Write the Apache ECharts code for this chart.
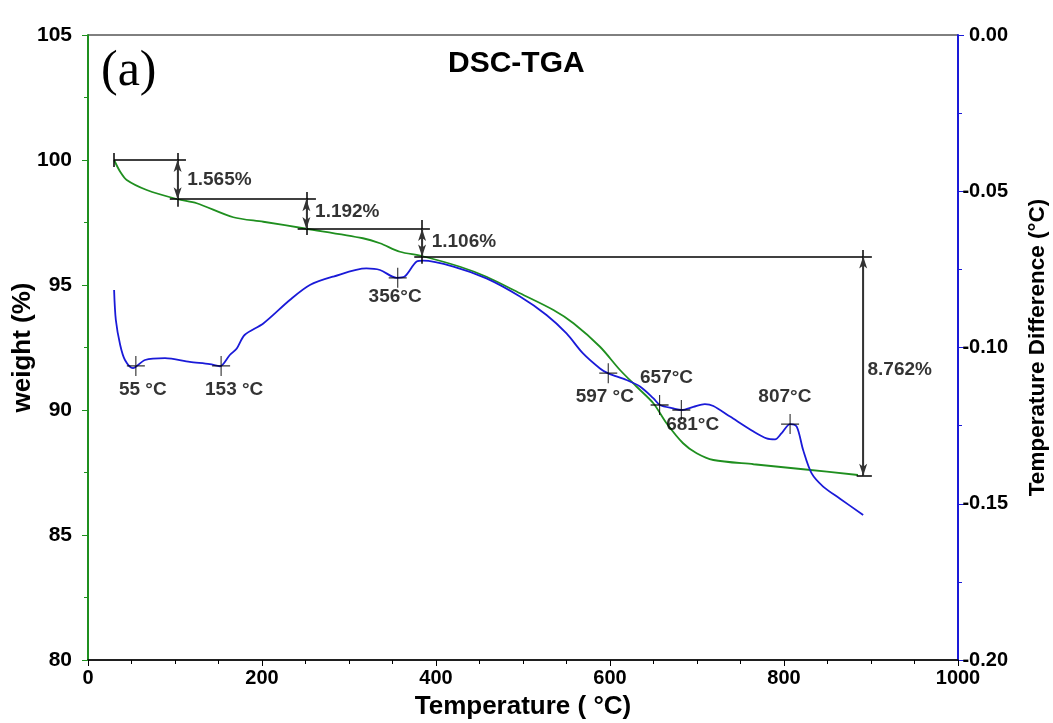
<!DOCTYPE html>
<html>
<head>
<meta charset="utf-8">
<script src="https://cdn.jsdelivr.net/npm/echarts@6/dist/echarts.min.js"></script>
<style>
html,body{margin:0;padding:0;background:#fff;}
#chart{width:1053px;height:723px;}
</style>
</head>
<body>
<div id="chart"></div>
<script>
// ---- Data ----
const tgaTemp   = [30,37,44.5,67.5,103,125,167,201.5,251,316,335.6,358.6,383.5,427.6,458,496.5,535,558,588.5,611.5,630.7,649.8,665,684,699.6,718.8,765,822,885];
const tgaWeight = [100,99.53,99.2,98.8,98.43,98.27,97.71,97.53,97.25,96.87,96.67,96.33,96.16,95.73,95.33,94.67,94.0,93.47,92.53,91.6,90.93,90.27,89.47,88.67,88.27,88.0,87.83,87.63,87.4];

const dtaTemp = [30,32,37,42.5,51.7,65.5,88.5,117,140,151.7,163,171,180,201.5,232,255,282,320,335.6,354.8,364,377.8,385.4,420,458,496.5,527,550,569,588.5,598,619,634.5,650,657.5,672.8,682.4,695.8,709,718.8,738,765,780,789.7,797,807,814.6,822,831.8,845,864,891];
const dtaDiff = [-0.0816,-0.0912,-0.0992,-0.104,-0.1066,-0.104,-0.1034,-0.1046,-0.1053,-0.106,-0.1024,-0.1003,-0.096,-0.0923,-0.0848,-0.080,-0.0773,-0.0747,-0.0752,-0.0777,-0.0773,-0.0725,-0.0722,-0.0741,-0.0779,-0.0837,-0.0896,-0.0955,-0.1019,-0.1067,-0.1083,-0.1104,-0.1125,-0.1163,-0.1184,-0.1195,-0.12,-0.119,-0.1181,-0.1187,-0.1221,-0.1269,-0.1291,-0.1294,-0.1275,-0.1245,-0.1253,-0.1328,-0.1403,-0.1445,-0.1483,-0.1536];

// DTA peak markers
const peakTemp = [55,153,356,598,657,682,807];
const peakDiff = [-0.1059,-0.1059,-0.0777,-0.1082,-0.1184,-0.12,-0.1245];
const peakLabels = ['55 °C','153 °C','356°C','597 °C','657°C','681°C','807°C'];
const peakLabelTemp = [63,168,353,594,665,695,801];
const peakLabelDiff = [-0.1136,-0.1136,-0.0837,-0.1158,-0.1098,-0.1248,-0.1158];

// weight-loss steps
const stepLabels = ['1.565%','1.192%','1.106%','8.762%'];
const stepLabelTemp = [114,261,395,896];
const stepLabelWeight = [99.2,97.92,96.73,91.6];
// horizontal reference lines [tStart, tEnd, weight]
const stepHLines = [[30,112.6,100],[94,262,98.435],[241,393,97.243],[375,901,96.137],[883.5,901,87.375]];
// vertical arrows [temp, weightTop, weightBottom]
const stepArrows = [[103,100,98.435],[251,98.435,97.243],[384,97.243,96.137],[891,96.137,87.375]];
// vertical tick lines [temp, weightTop, weightBottom]
const stepTicks = [[30,100.28,99.72],[103,100.28,98.13],[251,98.72,97.0],[384,97.6,95.85],[891,96.4,87.375]];

// axis ranges
const xMin = 0, xMax = 1000, xStep = 200;
const yMin = 80, yMax = 105, yStep = 5;
const y2Min = -0.20, y2Max = 0, y2Step = 0.05;

const GREEN = '#1f8f1f', BLUE = '#1a1ad8';
const FONT = 'Liberation Sans, Arial, sans-serif';

const chart = echarts.init(document.getElementById('chart'), null, {renderer:'canvas'});

const hLineData = stepHLines.map(d => [{coord:[d[0], d[2]]},{coord:[d[1], d[2]]}]);
const tickData = stepTicks.map(d => [{coord:[d[0], d[1]]},{coord:[d[0], d[2]]}]);
const arrowData = stepArrows.map(d => [{coord:[d[0], d[1]]},{coord:[d[0], d[2]]}]);

const option = {
  animation: false,
  backgroundColor: '#fff',
  title: [
    {text:'DSC-TGA', left: 443, top: 44, textStyle:{fontFamily:FONT, fontWeight:'bold', fontSize:30, color:'#000'}},
    {text:'(a)', left: 96, top: 42, textStyle:{fontFamily:'Liberation Serif, Times New Roman, serif', fontWeight:'normal', fontSize:50, color:'#000'}}
  ],
  grid: {left: 88, right: 95, top: 35, bottom: 63, outerBoundsMode:'none', containLabel:false,
         show: true, borderColor:'#000', borderWidth:1, backgroundColor:'transparent'},
  xAxis: {
    type:'value', min:xMin, max:xMax, interval:xStep,
    name:'Temperature ( °C)', nameLocation:'middle', nameGap:34,
    nameTextStyle:{fontFamily:FONT, fontWeight:'bold', fontSize:26, color:'#000'},
    axisLine:{show:true, onZero:false, lineStyle:{color:'#000', width:1.5}},
    axisTick:{show:true, inside:false, length:6, lineStyle:{color:'#000'}},
    minorTick:{show:true, splitNumber:4, length:4, lineStyle:{color:'#000'}},
    splitLine:{show:false},
    axisLabel:{fontFamily:FONT, fontWeight:'bold', fontSize:20, color:'#000', margin:8,
      formatter: v => String(v)}
  },
  yAxis: [
    {
      type:'value', min:yMin, max:yMax, interval:yStep, position:'left',
      name:'weight (%)', nameLocation:'middle', nameGap:52, nameRotate:90, nameMoveOverlap:false,
      nameTextStyle:{fontFamily:FONT, fontWeight:'bold', fontSize:26, color:'#000'},
      axisLine:{show:true, onZero:false, lineStyle:{color:GREEN, width:2}},
      axisTick:{show:true, length:6, lineStyle:{color:GREEN}},
      minorTick:{show:true, splitNumber:2, length:4, lineStyle:{color:GREEN}},
      splitLine:{show:false},
      axisLabel:{fontFamily:FONT, fontWeight:'bold', fontSize:21, color:'#000', margin:16,
        formatter: v => String(v)}
    },
    {
      type:'value', min:y2Min, max:y2Max, interval:y2Step, position:'right',
      name:'Temperature Difference (°C)', nameLocation:'middle', nameGap:68, nameRotate:90,
      nameTextStyle:{fontFamily:FONT, fontWeight:'bold', fontSize:22.5, color:'#000'},
      axisLine:{show:true, onZero:false, lineStyle:{color:BLUE, width:2}},
      axisTick:{show:true, length:6, lineStyle:{color:BLUE}},
      minorTick:{show:true, splitNumber:2, length:4, lineStyle:{color:BLUE}},
      splitLine:{show:false},
      axisLabel:{fontFamily:FONT, fontWeight:'bold', fontSize:20, color:'#000', margin:50, align:'right',
        formatter: v => v.toFixed(2)}
    }
  ],
  series: [
    {
      name:'TGA', type:'line', yAxisIndex:0, showSymbol:false, smooth:0.3,
      lineStyle:{color:GREEN, width:1.8}, itemStyle:{color:GREEN},
      data: tgaTemp.map((t,i)=>[t, tgaWeight[i]]),
      z:3
    },
    {
      name:'DTA', type:'line', yAxisIndex:1, showSymbol:false, smooth:0.3,
      lineStyle:{color:BLUE, width:1.8}, itemStyle:{color:BLUE},
      data: dtaTemp.map((t,i)=>[t, dtaDiff[i]]),
      z:3
    },
    {
      name:'peaks', type:'scatter', yAxisIndex:1,
      symbol:'path://M0,10L20,10M10,0L10,20', symbolSize:[18,20],
      itemStyle:{color:'rgba(0,0,0,0)', borderColor:'#000', borderWidth:1.2},
      data: peakTemp.map((t,i)=>[t, peakDiff[i]]),
      z:4, silent:true
    },
    {
      name:'peakLabels', type:'scatter', yAxisIndex:1, symbolSize:0,
      label:{show:true, position:'inside', formatter: p => peakLabels[p.dataIndex],
        fontFamily:FONT, fontWeight:'bold', fontSize:19, color:'#000'},
      data: peakLabelTemp.map((t,i)=>[t, peakLabelDiff[i]]),
      z:5, silent:true
    },
    {
      name:'stepLabels', type:'scatter', yAxisIndex:0, symbolSize:0,
      label:{show:true, position:'right', distance:0, formatter: p => stepLabels[p.dataIndex],
        fontFamily:FONT, fontWeight:'bold', fontSize:19, color:'#000'},
      data: stepLabelTemp.map((t,i)=>[t, stepLabelWeight[i]]),
      z:5, silent:true
    },
    {
      name:'steps', type:'line', yAxisIndex:0, data:[], silent:true,
      markLine:{
        silent:true, animation:false, symbol:['none','none'],
        label:{show:false},
        lineStyle:{color:'#000', width:1.5, type:'solid'},
        emphasis:{disabled:true},
        data: hLineData.concat(tickData)
      }
    },
    {
      name:'arrows', type:'line', yAxisIndex:0, data:[], silent:true,
      markLine:{
        silent:true, animation:false, symbol:['arrow','arrow'], symbolSize:[6,12],
        label:{show:false},
        lineStyle:{color:'#333', width:1.2, type:'solid'},
        emphasis:{disabled:true},
        data: arrowData
      }
    }
  ]
};
chart.setOption(option);
</script>
</body>
</html>
